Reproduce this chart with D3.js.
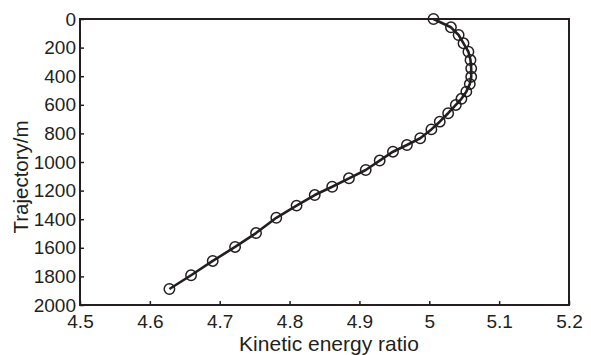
<!DOCTYPE html>
<html>
<head>
<meta charset="utf-8">
<script src="https://cdn.jsdelivr.net/npm/d3@7"></script>
<style>
  html, body { margin: 0; padding: 0; background: #fff; }
  svg text { font-family: Arial, "Liberation Sans", sans-serif; fill: #231f20; }
</style>
</head>
<body>
<svg id="chart" width="591" height="355"></svg>
<script>
'use strict';

/* ── Data ── */
const energyRatio = [5.006, 5.031, 5.042, 5.049, 5.056, 5.059, 5.060, 5.060, 5.058, 5.053,
                     5.046, 5.038, 5.027, 5.015, 5.003, 4.987, 4.968, 4.948, 4.929, 4.909,
                     4.885, 4.861, 4.836, 4.810, 4.781, 4.752, 4.722, 4.690, 4.659, 4.628];
const trajectory  = [0, 58, 112, 170, 229, 287, 345, 404, 455, 508,
                     558, 601, 659, 718, 772, 834, 881, 928, 990, 1056,
                     1114, 1173, 1231, 1305, 1390, 1497, 1594, 1692, 1792, 1888];
const xTicks = [4.5, 4.6, 4.7, 4.8, 4.9, 5, 5.1, 5.2];
const yTicks = [0, 200, 400, 600, 800, 1000, 1200, 1400, 1600, 1800, 2000];

const points = energyRatio.map((x, i) => ({ x, y: trajectory[i] }));

/* ── Layout ── */
const svg = d3.select('#chart');
const L = 80, R = 569, T = 19, B = 305;
const INK = '#231f20';

const x = d3.scaleLinear().domain([4.5, 5.2]).range([L, R]);
const y = d3.scaleLinear().domain([0, 2000]).range([T, B]);

/* ── Axes (ticks point inward) ── */
const xAxis = d3.axisBottom(x).tickValues(xTicks).tickSizeInner(-4).tickSizeOuter(0)
  .tickPadding(10).tickFormat(d3.format('~g'));
const yAxis = d3.axisLeft(y).tickValues(yTicks).tickSizeInner(-4).tickSizeOuter(0)
  .tickPadding(4).tickFormat(d3.format('d'));

const gx = svg.append('g').attr('transform', `translate(0,${B})`).call(xAxis);
const gy = svg.append('g').attr('transform', `translate(${L},0)`).call(yAxis);

[gx, gy].forEach(g => {
  g.select('.domain').remove();
  g.selectAll('.tick line').attr('stroke', INK).attr('stroke-width', 1.5);
  g.selectAll('.tick text').attr('font-size', 19).attr('fill', INK)
    .attr('font-family', 'Arial, "Liberation Sans", sans-serif');
});

/* ── Frame ── */
svg.append('rect')
  .attr('x', L).attr('y', T).attr('width', R - L).attr('height', B - T)
  .attr('fill', 'none').attr('stroke', INK).attr('stroke-width', 2);

/* ── Curve + markers ── */
const line = d3.line().x(d => x(d.x)).y(d => y(d.y));

svg.append('path')
  .datum(points)
  .attr('d', line)
  .attr('fill', 'none').attr('stroke', INK).attr('stroke-width', 2.6)
  .attr('stroke-linejoin', 'round');

svg.append('g').selectAll('circle')
  .data(points).join('circle')
  .attr('cx', d => x(d.x)).attr('cy', d => y(d.y)).attr('r', 5.2)
  .attr('fill', 'none').attr('stroke', INK).attr('stroke-width', 1.5);

/* ── Axis titles ── */
svg.append('text')
  .attr('x', 329).attr('y', 351)
  .attr('text-anchor', 'middle').attr('font-size', 21)
  .text('Kinetic energy ratio');

svg.append('text')
  .attr('transform', 'translate(28,177) rotate(-90)')
  .attr('text-anchor', 'middle').attr('font-size', 20.5)
  .text('Trajectory/m');
</script>
</body>
</html>
